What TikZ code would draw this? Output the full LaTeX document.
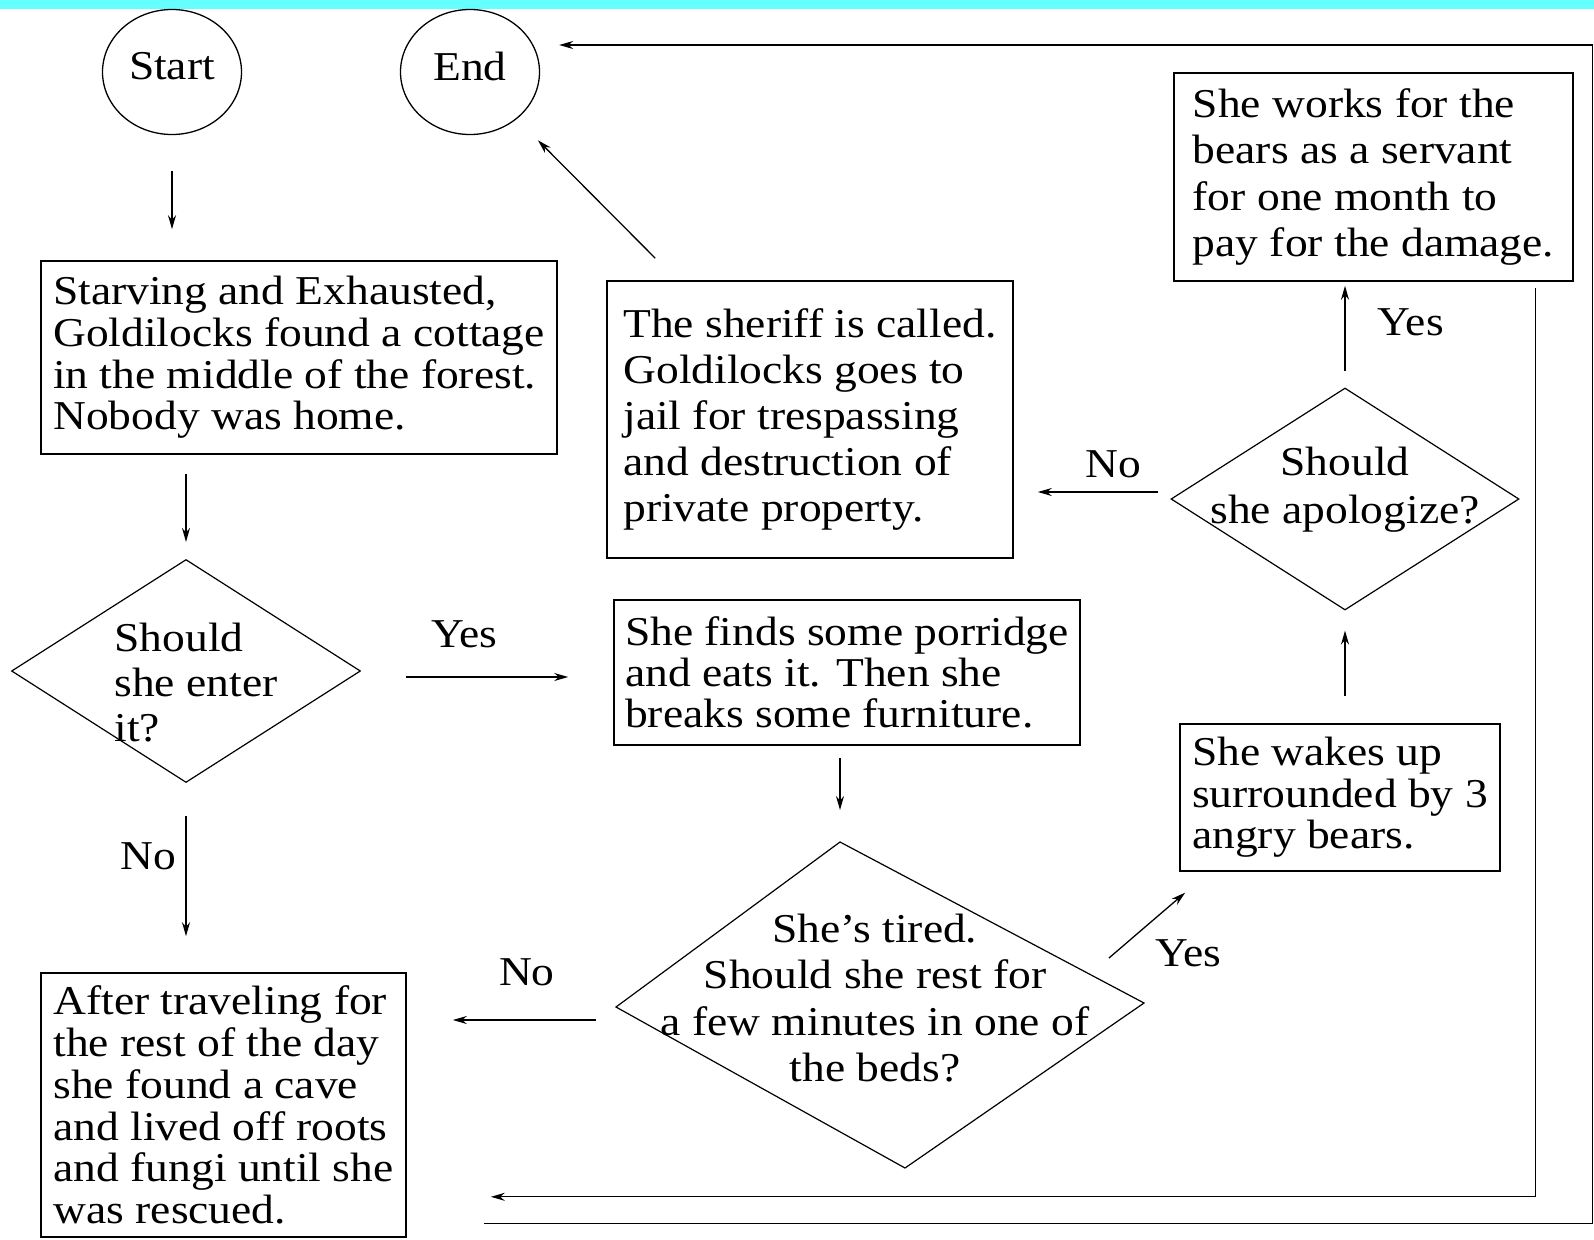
\documentclass[tikz,border=0pt]{standalone}
\usepackage{fontspec}
\setmainfont[FakeStretch=1.11]{Liberation Serif}
\usetikzlibrary{shapes.geometric, arrows.meta, calc}

\begin{document}
\begin{tikzpicture}[x=1pt, y=-1pt, font=\fontsize{41pt}{46pt}\selectfont]
            \tikzset{box/.style = {shape=rectangle, draw, line width=1.6pt, inner sep=0pt, align=left, font=\fontsize{41pt}{#1}\selectfont}}
            \tikzset{terminal/.style = {shape=ellipse, draw, line width=1.3pt, inner sep=0pt, minimum width=139pt, minimum height=125pt}}
            \tikzset{decision/.style = {shape=diamond, draw, line width=1.2pt, inner sep=0pt}}
            \tikzset{edge/.style = {line width=1.3pt, -{Stealth[length=14pt, width=8pt]}}}
            \tikzset{answer/.style = {inner sep=0pt}}

            \useasboundingbox (0,0) rectangle (1594,1239);
            \fill[color={rgb,255:red,102;green,255;blue,255}] (0,0) rectangle (1594,9.5);

            \node[terminal] (0) at (172, 72) {\raisebox{12pt}{Start}};
            \node[terminal] (1) at (470, 72) {\raisebox{12pt}{End}};

            \node[box=41.7pt, minimum width=516pt, minimum height=193pt] (2) at (299, 357.5) {Starving and Exhausted,\\Goldilocks found a cottage\\in the middle of the forest.\\Nobody was home.};
            \node[decision, minimum width=349pt, minimum height=223pt,
                label={[align=left, xshift=10pt, yshift=-12pt, font=\fontsize{41pt}{45pt}\selectfont]center:{Should\\she enter\\it?}}] (3) at (186, 671) {};
            \node[box=41pt, minimum width=466pt, minimum height=145pt] (4) at (847, 672.5) {She finds some porridge\\and eats it. Then she\\breaks some furniture.};

            \coordinate (5t) at (840, 842);
            \coordinate (5r) at (1144, 1003);
            \coordinate (5b) at (905, 1168);
            \coordinate (5l) at (616, 1007);
            \draw[line width=1.2pt] (5t) -- (5r) -- (5b) -- (5l) -- cycle;
            \node[answer, align=center, font=\fontsize{41pt}{46.3pt}\selectfont] (5) at (875, 998) {She’s tired.\\Should she rest for\\a few minutes in one of\\the beds?};

            \node[box=41.5pt, minimum width=320pt, minimum height=147pt] (6) at (1340, 797.5) {She wakes up\\surrounded by 3\\angry bears.};
            \node[decision, minimum width=348pt, minimum height=222pt,
                label={[align=center, yshift=9pt, font=\fontsize{41pt}{48pt}\selectfont]center:{Should\\she apologize?}}] (7) at (1345, 499) {};
            \node[box=46.5pt, minimum width=399pt, minimum height=208pt] (8) at (1373.5, 177) {She works for the\\bears as a servant\\for one month to\\pay for the damage.};
            \node[box=46pt, minimum width=406pt, minimum height=277pt] (9) at (810, 419.5) {The sheriff is called.\\Goldilocks goes to\\jail for trespassing\\and destruction of\\private property.};
            \node[box=41.7pt, minimum width=365pt, minimum height=264pt] (10) at (223.5, 1105) {After traveling for\\the rest of the day\\she found a cave\\and lived off roots\\and fungi until she\\was rescued.};

            \draw[edge, shorten <=36pt, shorten >=31pt] (0.south) to (0.south |- 2.north);
            \draw[edge, shorten <=19pt, shorten >=17pt] (3.north |- 2.south) to (3.north);

            \draw[edge, shorten <=33pt, shorten >=36pt] (3.south) to node[answer, pos=0.455, anchor=base east, xshift=-9pt] {No} (3.south |- 10.north);
            \draw[edge, shorten <=45pt, shorten >=45pt, transform canvas={yshift=-6pt}] (3.east) to node[answer, pos=0.276, anchor=base west, yshift=30pt] {Yes} (3.east -| 4.west);

            \draw[edge, shorten <=12pt, shorten >=32pt] (4.south -| 5t) to (5t);
            \draw[edge, shorten <=20pt, shorten >=46pt, transform canvas={yshift=-13pt}] (5l) to node[answer, pos=0.562, anchor=base west, yshift=35pt] {No} (5l -| 10.east);
            \draw[edge, shorten <=25pt, shorten >=32pt] ($(5t)!0.822!(5r)$) to node[answer, pos=0.3, anchor=base west, xshift=29pt, yshift=-23pt] {Yes} ($(6.south west)!0.094!(6.south east)$);

            \draw[edge, shorten <=27pt, shorten >=20pt] (6.north -| 7.south) to (7.south);
            \draw[edge, shorten <=16pt, shorten >=4pt] (7.north) to node[answer, pos=0.495, anchor=base west, xshift=32pt] {Yes} (7.north |- 8.south);
            \draw[edge, shorten <=12pt, shorten >=24pt, transform canvas={yshift=7pt}] (7.west) to node[answer, pos=0.544, anchor=base west, yshift=15pt] {No} (7.west -| 9.east);

            \draw[edge, shorten <=31pt, shorten >=30pt] ($(9.north west)!0.174!(9.north east)$) to (1);

            \draw[edge] ($(8.south east)+(-38,6)$) |- ($(10.south east)+(84,-41)$);
            \draw[edge] ($(10.south east)+(77,-14)$) -- ++(1109,0) |- ($(1.east)+(19,-27)$);
        \end{tikzpicture}
\end{document}
